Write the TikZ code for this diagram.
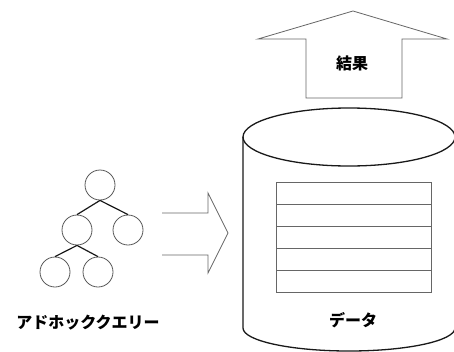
\documentclass[tikz,border=0pt]{standalone}
\usepackage{fontspec}
\newfontfamily\jpfont{Noto Sans CJK JP}
\usetikzlibrary{calc}
\tikzset{x=1pt, y=-1pt,
    query node/.style={circle, draw=black!65, line width=0.8pt,
           minimum size=30pt, inner sep=0pt},
    query edge/.style={draw=black!90, line width=1.2pt},
    block arrow/.style={draw=black!60, line width=0.8pt, fill=white},
    data line/.style={draw=black!90, line width=1.3pt},
    table line/.style={draw=black!60, line width=0.7pt},
    jp label/.style={font=\jpfont\bfseries\fontsize{16pt}{16pt}\selectfont}
    }
\def\QueryEdge#1#2{%
  \draw[query edge] (#1.south) -- (#2.north);
}
\begin{document}
\begin{tikzpicture}
\clip (0,0) rectangle (454,351);
\fill[white] (0,0) rectangle (454,351);
% query tree
\node[query node] (Q1) at (100,185) {};
\node[query node] (Q2) at (77,230) {};
\node[query node] (Q3) at (128,230) {};
\node[query node] (Q4) at (55,272) {};
\node[query node] (Q5) at (98,272) {};
\QueryEdge{Q1}{Q2}
\QueryEdge{Q1}{Q3}
\QueryEdge{Q2}{Q4}
\QueryEdge{Q2}{Q5}
\node[jp label] (Query) at (88,323) {アドホッククエリー};
% arrow into the data
\draw[block arrow] (162,213) -- (208,213) -- (208,193) -- (228,233)
  -- (208,273) -- (208,255) -- (162,255);
% result arrow
\draw[block arrow] (306,98) -- (306,39) -- (258,39) -- (353,11)
  -- (447,39) -- (402,39) -- (402,98) -- cycle;
\node[jp label] (Result) at (352,63) {結果};
% data store
\draw[data line] (243,137) -- (243,328)
  arc[start angle=180, end angle=0, x radius=106, y radius=23] -- (455,137);
\draw[data line] (349,137) ellipse [x radius=106, y radius=29];
\draw[table line] (276,182) rectangle (431,292);
\foreach \y in {204,226,248,270}
  \draw[table line] (276,\y) -- (431,\y);
\node[jp label] (Data) at (353,320) {データ};
\end{tikzpicture}
\end{document}
